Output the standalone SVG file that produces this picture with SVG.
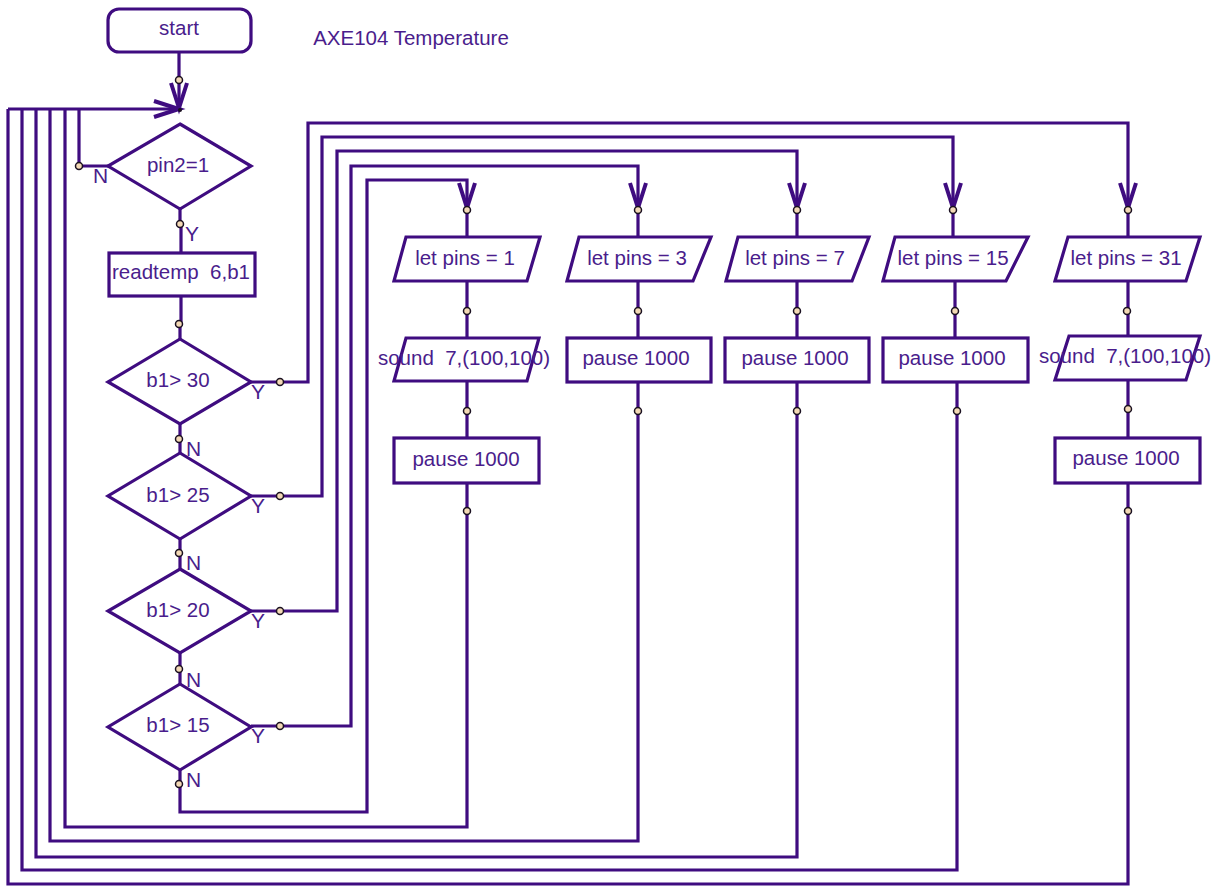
<svg xmlns="http://www.w3.org/2000/svg" width="1222" height="887" viewBox="0 0 1222 887">
<defs>
<style>
.ln{fill:none;stroke:#3f0c80;stroke-width:3.2;stroke-linejoin:miter}
.sh{fill:#ffffff;stroke:#3f0c80;stroke-width:3.2}
.tx{font-family:"Liberation Sans",Arial,sans-serif;font-size:20.5px;fill:#4a1d8c;text-anchor:middle;white-space:pre}
.lb{font-family:"Liberation Sans",Arial,sans-serif;font-size:21px;fill:#4a1d8c}
.dot{fill:#f3d9b5;stroke:#1a1020;stroke-width:1.5}
</style>
<marker id="arr" markerUnits="userSpaceOnUse" markerWidth="40" markerHeight="30" viewBox="-30 -15 40 30" refX="0" refY="0" orient="auto">
<path d="M-25,-8 L0,0 L-25,8" fill="none" stroke="#3f0c80" stroke-width="4"/>
</marker>
</defs>
<rect width="1222" height="887" fill="#ffffff"/>
<text class="tx" x="411" y="45">AXE104 Temperature</text>
<g id="connectors">
<path class="ln" d="M179,53 V108" marker-end="url(#arr)"/>
<path class="ln" d="M8,109 H179" marker-end="url(#arr)"/>
<path class="ln" d="M108,166 H79 V109"/>
<path class="ln" d="M180,209 V224 M181,224 V253"/>
<path class="ln" d="M181,296 V324 M180,324 V339"/>
<path class="ln" d="M251,382 H308 V123 H1128 V208" marker-end="url(#arr)"/>
<path class="ln" d="M180,424 V453"/>
<path class="ln" d="M251,496 H322 V137 H953 V208" marker-end="url(#arr)"/>
<path class="ln" d="M180,539 V569"/>
<path class="ln" d="M251,611 H337 V151 H797 V208" marker-end="url(#arr)"/>
<path class="ln" d="M180,653 V684"/>
<path class="ln" d="M251,726 H351 V166 H638 V208" marker-end="url(#arr)"/>
<path class="ln" d="M180,770 V812 H367 V180 H467 V208" marker-end="url(#arr)"/>
<path class="ln" d="M467,210 V237 M467,281 V338 M467,381 V438 M467,483 V827 H65 V109"/>
<path class="ln" d="M638,210 V237 M638,281 V338 M638,382 V841 H50 V109"/>
<path class="ln" d="M797,210 V237 M797,281 V338 M797,382 V857 H36 V109"/>
<path class="ln" d="M953,210 V237 M955,281 V338 M957,382 V870 H22 V109"/>
<path class="ln" d="M1128,210 V237 M1128,281 V336 M1128,380 V438 M1128,483 V884 H8 V109"/>
</g>
<g id="start"><rect class="sh" x="108" y="9" width="143" height="43" rx="11"/><text class="tx" x="179" y="35">start</text></g>
<g id="pin2"><polygon class="sh" points="180,124 251,166 180,209 108,166"/><text class="tx" x="178" y="172">pin2=1</text></g>
<g id="readtemp"><rect class="sh" x="109" y="253" width="146" height="43"/><text class="tx" x="181" y="279">readtemp  6,b1</text></g>
<g id="b30"><polygon class="sh" points="180,339 251,382 180,424 108,382"/><text class="tx" x="178" y="387">b1&gt; 30</text></g>
<g id="b25"><polygon class="sh" points="180,453 251,496 180,539 108,496"/><text class="tx" x="178" y="502">b1&gt; 25</text></g>
<g id="b20"><polygon class="sh" points="180,569 251,611 180,653 108,611"/><text class="tx" x="178" y="617">b1&gt; 20</text></g>
<g id="b15"><polygon class="sh" points="180,684 251,727 180,770 108,727"/><text class="tx" x="178" y="732">b1&gt; 15</text></g>
<g id="pins1"><polygon class="sh" points="406,237 540,237 527,281 394,281"/><text class="tx" x="465" y="265">let pins = 1</text></g>
<g id="sound1"><polygon class="sh" points="406,338 539,338 527,381 394,381"/><text class="tx" x="464" y="365">sound  7,(100,100)</text></g>
<g id="pause1"><rect class="sh" x="394" y="438" width="145" height="45"/><text class="tx" x="466" y="466">pause 1000</text></g>
<g id="pins3"><polygon class="sh" points="579,237 711,237 693,281 567,281"/><text class="tx" x="637" y="265">let pins = 3</text></g>
<g id="pause3"><rect class="sh" x="567" y="338" width="144" height="44"/><text class="tx" x="636" y="365">pause 1000</text></g>
<g id="pins7"><polygon class="sh" points="738,237 869,237 852,281 726,281"/><text class="tx" x="795" y="265">let pins = 7</text></g>
<g id="pause7"><rect class="sh" x="725" y="338" width="144" height="44"/><text class="tx" x="795" y="365">pause 1000</text></g>
<g id="pins15"><polygon class="sh" points="895,237 1028,237 1006,281 883,281"/><text class="tx" x="953" y="265">let pins = 15</text></g>
<g id="pause15"><rect class="sh" x="883" y="338" width="145" height="44"/><text class="tx" x="952" y="365">pause 1000</text></g>
<g id="pins31"><polygon class="sh" points="1068,237 1200,237 1186,281 1055,281"/><text class="tx" x="1126" y="265">let pins = 31</text></g>
<g id="sound31"><polygon class="sh" points="1069,336 1200,336 1186,380 1055,380"/><text class="tx" x="1125" y="363">sound  7,(100,100)</text></g>
<g id="pause31"><rect class="sh" x="1055" y="438" width="145" height="45"/><text class="tx" x="1126" y="465">pause 1000</text></g>
<g id="labels">
<text class="lb" x="93" y="183">N</text>
<text class="lb" x="185" y="241">Y</text>
<text class="lb" x="251" y="399">Y</text>
<text class="lb" x="186" y="456">N</text>
<text class="lb" x="251" y="513">Y</text>
<text class="lb" x="186" y="570">N</text>
<text class="lb" x="251" y="628">Y</text>
<text class="lb" x="186" y="687">N</text>
<text class="lb" x="251" y="743">Y</text>
<text class="lb" x="186" y="787">N</text>
</g>
<g id="dots">
<circle class="dot" cx="179" cy="80" r="3.5"/>
<circle cx="180" cy="110" r="2" fill="#1a1020"/>
<circle class="dot" cx="79" cy="166" r="3.5"/>
<circle class="dot" cx="180" cy="224" r="3.5"/>
<circle class="dot" cx="179" cy="324" r="3.5"/>
<circle class="dot" cx="280" cy="382" r="3.5"/>
<circle class="dot" cx="280" cy="496" r="3.5"/>
<circle class="dot" cx="280" cy="611" r="3.5"/>
<circle class="dot" cx="280" cy="726" r="3.5"/>
<circle class="dot" cx="179" cy="439" r="3.5"/>
<circle class="dot" cx="179" cy="553" r="3.5"/>
<circle class="dot" cx="179" cy="669" r="3.5"/>
<circle class="dot" cx="179" cy="784" r="3.5"/>
<circle class="dot" cx="467" cy="210" r="3.5"/>
<circle class="dot" cx="467" cy="311" r="3.5"/>
<circle class="dot" cx="467" cy="411" r="3.5"/>
<circle class="dot" cx="467" cy="511" r="3.5"/>
<circle class="dot" cx="638" cy="210" r="3.5"/>
<circle class="dot" cx="638" cy="311" r="3.5"/>
<circle class="dot" cx="638" cy="411" r="3.5"/>
<circle class="dot" cx="797" cy="210" r="3.5"/>
<circle class="dot" cx="797" cy="311" r="3.5"/>
<circle class="dot" cx="797" cy="411" r="3.5"/>
<circle class="dot" cx="953" cy="210" r="3.5"/>
<circle class="dot" cx="955" cy="311" r="3.5"/>
<circle class="dot" cx="957" cy="411" r="3.5"/>
<circle class="dot" cx="1128" cy="210" r="3.5"/>
<circle class="dot" cx="1127" cy="311" r="3.5"/>
<circle class="dot" cx="1128" cy="409" r="3.5"/>
<circle class="dot" cx="1128" cy="511" r="3.5"/>
</g>
</svg>
